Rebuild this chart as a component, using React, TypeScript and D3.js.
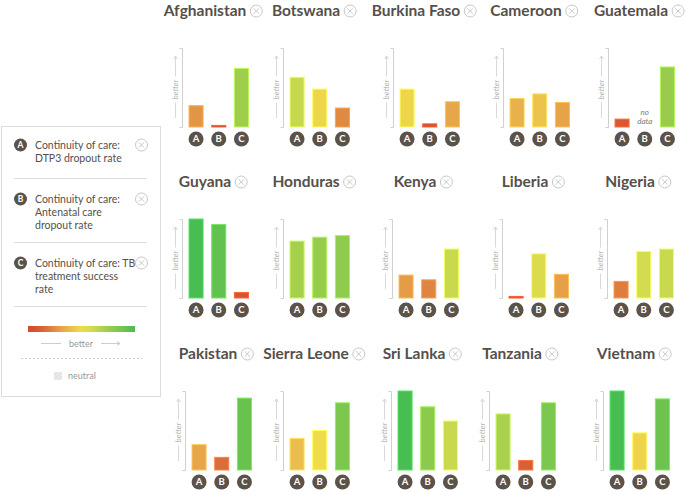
import React, { useEffect, useRef } from "react";
import * as d3 from "d3";

// country panels, in reading order
const countries = ["Afghanistan", "Botswana", "Burkina Faso", "Cameroon", "Guatemala",
  "Guyana", "Honduras", "Kenya", "Liberia", "Nigeria",
  "Pakistan", "Sierra Leone", "Sri Lanka", "Tanzania", "Vietnam"];
const indicatorKeys = ["A", "B", "C"];
// scores 0-100, higher = better
const dtp3Dropout = [27, 63, 48, 36, 10, 100, 72, 29, 2, 21, 32, 40, 100, 71, 100];
const ancDropout = [2, 48, 4, 42, null, 93, 77, 23, 56, 59, 16, 50, 80, 12, 47];
const tbSuccess = [74, 24, 32, 31, 76, 7, 79, 62, 30, 62, 91, 85, 62, 85, 90];
const legendLabels = [
  ["Continuity of care:", "DTP3 dropout rate"],
  ["Continuity of care:", "Antenatal care", "dropout rate"],
  ["Continuity of care: TB", "treatment success", "rate"],
];
const colorStops = [0, 10, 20, 30, 40, 50, 60, 75, 90, 100];
const colorRange = ["#d24a2c", "#d65a33", "#dc7a3e", "#e5a048", "#ebbd4c", "#efdc4a", "#d0db4e", "#9ccd4c", "#6cc44e", "#48bd52"];

const width = 685;
const height = 492;
const rowBaselines = [16, 187, 359];
const colX = [[182, 283, 393, 503, 608], [182, 283, 392, 502, 607], [185, 283, 391, 489, 603]];
const ink = "#55504b";

const App = () => {
  const ref = useRef<SVGSVGElement>(null);

  useEffect(() => {
    const svg = d3.select(ref.current);
    svg.selectAll("*").remove();

    const color = d3.scaleLinear<string>().domain(colorStops).range(colorRange);

    const closeIcon = (g: any, cx: number, cy: number, r: number) => {
      const ic = g.append("g").attr("transform", `translate(${cx},${cy})`);
      ic.append("circle").attr("r", r).attr("fill", "none").attr("stroke", "#c8c8c8").attr("stroke-width", 1);
      const a = r * 0.45;
      ic.append("path").attr("d", `M${-a},${-a}L${a},${a}M${a},${-a}L${-a},${a}`)
        .attr("stroke", "#c8c8c8").attr("stroke-width", 1);
    };

    // ---- legend
    const leg = svg.append("g");
    leg.append("rect").attr("x", 1.5).attr("y", 126.5).attr("width", 159).attr("height", 270)
      .attr("fill", "#fff").attr("stroke", "#dcdcdc");
    const itemY = [145, 199, 263];
    legendLabels.forEach((lines, i) => {
      const g = leg.append("g");
      g.append("circle").attr("cx", 20.5).attr("cy", itemY[i]).attr("r", 6.5).attr("fill", "#5b524a");
      g.append("text").attr("x", 20.5).attr("y", itemY[i] + 3.2).attr("text-anchor", "middle")
        .attr("font-family", "Lato").attr("font-weight", "bold").attr("font-size", 8.5).attr("fill", "#fff")
        .text(indicatorKeys[i]);
      lines.forEach((l, j) => {
        g.append("text").attr("x", 35).attr("y", itemY[i] + 4 + j * 13)
          .attr("font-family", "Lato").attr("font-size", 10.5).attr("fill", ink).text(l);
      });
      closeIcon(g, 141.5, itemY[i], 6);
      g.append("line").attr("x1", 14).attr("x2", 147).attr("y1", [178.5, 242.5, 306.5][i]).attr("y2", [178.5, 242.5, 306.5][i])
        .attr("stroke", "#dddddd");
    });
    const grad = svg.append("defs").append("linearGradient").attr("id", "scoreGrad");
    colorStops.forEach((s, i) => {
      grad.append("stop").attr("offset", s + "%").attr("stop-color", colorRange[i]);
    });
    leg.append("rect").attr("x", 28).attr("y", 326).attr("width", 107).attr("height", 6).attr("fill", "url(#scoreGrad)");
    leg.append("text").attr("x", 81).attr("y", 346.5).attr("text-anchor", "middle")
      .attr("font-family", "Lato").attr("font-size", 9).attr("fill", "#999").text("better");
    leg.append("path").attr("d", "M41,343.5H61M101,343.5H120M117,341.5L120,343.5L117,345.5")
      .attr("fill", "none").attr("stroke", "#cccccc");
    leg.append("line").attr("x1", 21).attr("x2", 142).attr("y1", 358.5).attr("y2", 358.5)
      .attr("stroke", "#cccccc").attr("stroke-dasharray", "2,2");
    const pat = svg.select("defs").append("pattern").attr("id", "hatch").attr("width", 3).attr("height", 3)
      .attr("patternUnits", "userSpaceOnUse").attr("patternTransform", "rotate(45)");
    pat.append("rect").attr("width", 3).attr("height", 3).attr("fill", "#ececec");
    pat.append("line").attr("x1", 0).attr("y1", 0).attr("x2", 0).attr("y2", 3).attr("stroke", "#d6d6d6").attr("stroke-width", 1.5);
    leg.append("rect").attr("x", 54).attr("y", 372).attr("width", 8).attr("height", 8).attr("fill", "url(#hatch)");
    leg.append("text").attr("x", 68).attr("y", 379).attr("font-family", "Lato").attr("font-size", 9)
      .attr("fill", "#999").text("neutral");

    // ---- small multiples
    countries.forEach((name, i) => {
      const row = Math.floor(i / 5);
      const col = i % 5;
      const ax = colX[row][col];
      const base = rowBaselines[row];
      const top = base + 32;
      const bottom = base + 111;
      const values = [dtp3Dropout[i], ancDropout[i], tbSuccess[i]];

      const y = d3.scaleLinear().domain([0, 100]).range([bottom, top]);
      const x = d3.scaleBand().domain(indicatorKeys).range([ax, ax + 73.5]).paddingInner(0.38).paddingOuter(0.31);

      const g = svg.append("g");

      // title + close icon, centred over the panel
      const title = g.append("text").attr("y", base).attr("font-family", "Lato").attr("font-weight", "bold")
        .attr("font-size", 15.5).attr("fill", ink).text(name);
      const tw = (title.node() as SVGTextElement).getComputedTextLength();
      const total = tw + 4 + 12;
      const startX = ax + 31 - total / 2;
      title.attr("x", startX);
      closeIcon(g, startX + tw + 4 + 6, base - 5, 6);

      // bracket axis
      g.append("path").attr("d", `M${ax - 2.5},${top + 0.5}H${ax + 0.5}V${bottom + 0.5}H${ax - 2.5}`)
        .attr("fill", "none").attr("stroke", "#d0d0d0");

      // "better" arrow
      const bx = ax - 6.5;
      const mid = (top + bottom) / 2 + 2;
      g.append("path").attr("d", `M${bx},${bottom - 9}V${mid + 13}M${bx},${mid - 13}V${top + 8}M${bx - 2},${top + 11}L${bx},${top + 8}L${bx + 2},${top + 11}`)
        .attr("fill", "none").attr("stroke", "#cfcfcf").attr("stroke-width", 0.8);
      g.append("text").attr("transform", `translate(${bx + 2.5},${mid}) rotate(-90)`).attr("text-anchor", "middle")
        .attr("font-family", "Lato").attr("font-style", "italic").attr("font-size", 8).attr("fill", "#b5b5b5")
        .text("better");

      // bars
      values.forEach((v, k) => {
        const key = indicatorKeys[k];
        const cx = (x(key) as number) + x.bandwidth() / 2;
        if (v === null) {
          ["no", "data"].forEach((t, j) => {
            g.append("text").attr("x", cx).attr("y", bottom - 12 + j * 9).attr("text-anchor", "middle")
              .attr("font-family", "Lato").attr("font-style", "italic").attr("font-size", 8).attr("fill", "#7a7a7a")
              .text(t);
          });
        } else {
          const c = color(v);
          g.append("rect").attr("x", x(key) as number).attr("y", y(v)).attr("width", x.bandwidth())
            .attr("height", Math.max(1.5, bottom - y(v))).attr("fill", c)
            .attr("stroke", d3.color(c)!.brighter(0.5).toString()).attr("stroke-width", 1);
        }
        g.append("circle").attr("cx", cx).attr("cy", bottom + 12).attr("r", 7.5).attr("fill", "#5b524a");
        g.append("text").attr("x", cx).attr("y", bottom + 15.3).attr("text-anchor", "middle")
          .attr("font-family", "Lato").attr("font-weight", "bold").attr("font-size", 9.5).attr("fill", "#fff")
          .text(key);
      });
    });
  }, []);

  return (
    <svg ref={ref} width={width} height={height}
      style={{ position: "absolute", left: 0, top: 0, background: "#fff" }} />
  );
};

export default App;
